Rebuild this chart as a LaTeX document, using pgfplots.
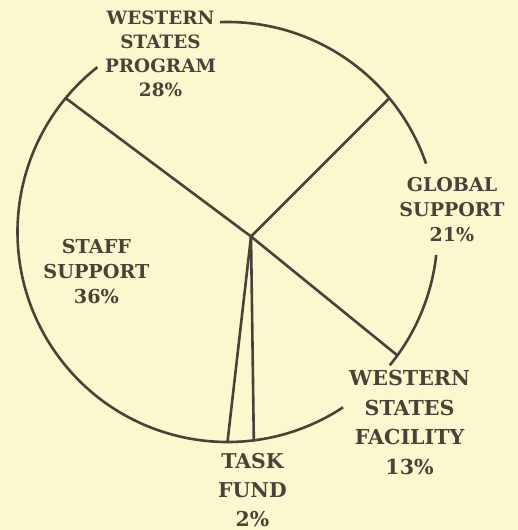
\documentclass[border=0pt]{standalone}
\usepackage{pgfplots}
\pgfplotsset{compat=1.18}
\usepgfplotslibrary{polar}
\usepackage{fontspec}
\setmainfont{DejaVu Serif}
\definecolor{bg}{RGB}{251,247,207}
\definecolor{ink}{RGB}{74,66,56}
% Slice shares (percent), clockwise from the Staff/Program boundary at 140.4 deg:
% Western States Program 28, Global Support 21, Western States Facility 13,
% Task Fund 2, Staff Support 36  -> boundary angles 140.4, 39.6, -36.0, -82.8, -90.0
\begin{document}
\begin{tikzpicture}
\begin{axis}[
  hide axis,
  x=105pt, y=105pt,
  xmin=-1.0833, xmax=1.3833,
  ymin=-1.4190, ymax=1.1048,
  clip=false,
]
\fill[bg] (rel axis cs:0,0) rectangle (rel axis cs:1,1);
\coordinate (bl) at (rel axis cs:0,0);
\coordinate (tr) at (rel axis cs:1,1);
% outline (with gaps where the labels sit)
\draw[ink, line width=1.3pt] (axis cs:0,0) ++(128.3:105pt) arc [start angle=128.3, end angle=303.4, radius=105pt];
\draw[ink, line width=1.3pt] (axis cs:0,0) ++(92:105pt) arc [start angle=92, end angle=19, radius=105pt];
\draw[ink, line width=1.3pt] (axis cs:0,0) ++(-6.3:105pt) arc [start angle=-6.3, end angle=-39.4, radius=105pt];
% slice boundaries (polar: angle, radius)
\addplot[ink, line width=1.3pt, data cs=polar, line cap=round] coordinates {(-10.8,0.114) (140.4,1)};
\addplot[ink, line width=1.3pt, data cs=polar, line cap=round] coordinates {(-10.8,0.114) (39.6,1)};
\addplot[ink, line width=1.3pt, data cs=polar, line cap=round] coordinates {(-10.8,0.114) (-36.0,1)};
\addplot[ink, line width=1.3pt, data cs=polar, line cap=round] coordinates {(-10.8,0.114) (-82.8,1)};
\addplot[ink, line width=1.3pt, data cs=polar, line cap=round] coordinates {(-10.8,0.114) (-90.0,1)};
% labels
\node[text=ink, align=center, inner sep=0pt, font=\fontsize{9.2}{12}\selectfont\bfseries] at (axis cs:-0.319,0.850) {WESTERN\\STATES\\PROGRAM\\28\%};
\node[text=ink, align=center, inner sep=0pt, font=\fontsize{9.5}{12.5}\selectfont\bfseries] at (axis cs:1.069,0.105) {GLOBAL\\SUPPORT\\21\%};
\node[text=ink, align=center, inner sep=0pt, font=\fontsize{9.6}{12.3}\selectfont\bfseries] at (axis cs:-0.624,-0.188) {STAFF\\SUPPORT\\36\%};
\node[text=ink, align=center, inner sep=0pt, font=\fontsize{10.3}{14.7}\selectfont\bfseries] at (axis cs:0.867,-0.907) {WESTERN\\STATES\\FACILITY\\13\%};
\node[text=ink, align=center, inner sep=0pt, font=\fontsize{10.2}{14.7}\selectfont\bfseries] at (axis cs:0.119,-1.229) {TASK\\FUND\\2\%};
\end{axis}
\pgfresetboundingbox
\useasboundingbox (bl) rectangle (tr);
\end{tikzpicture}
\end{document}
